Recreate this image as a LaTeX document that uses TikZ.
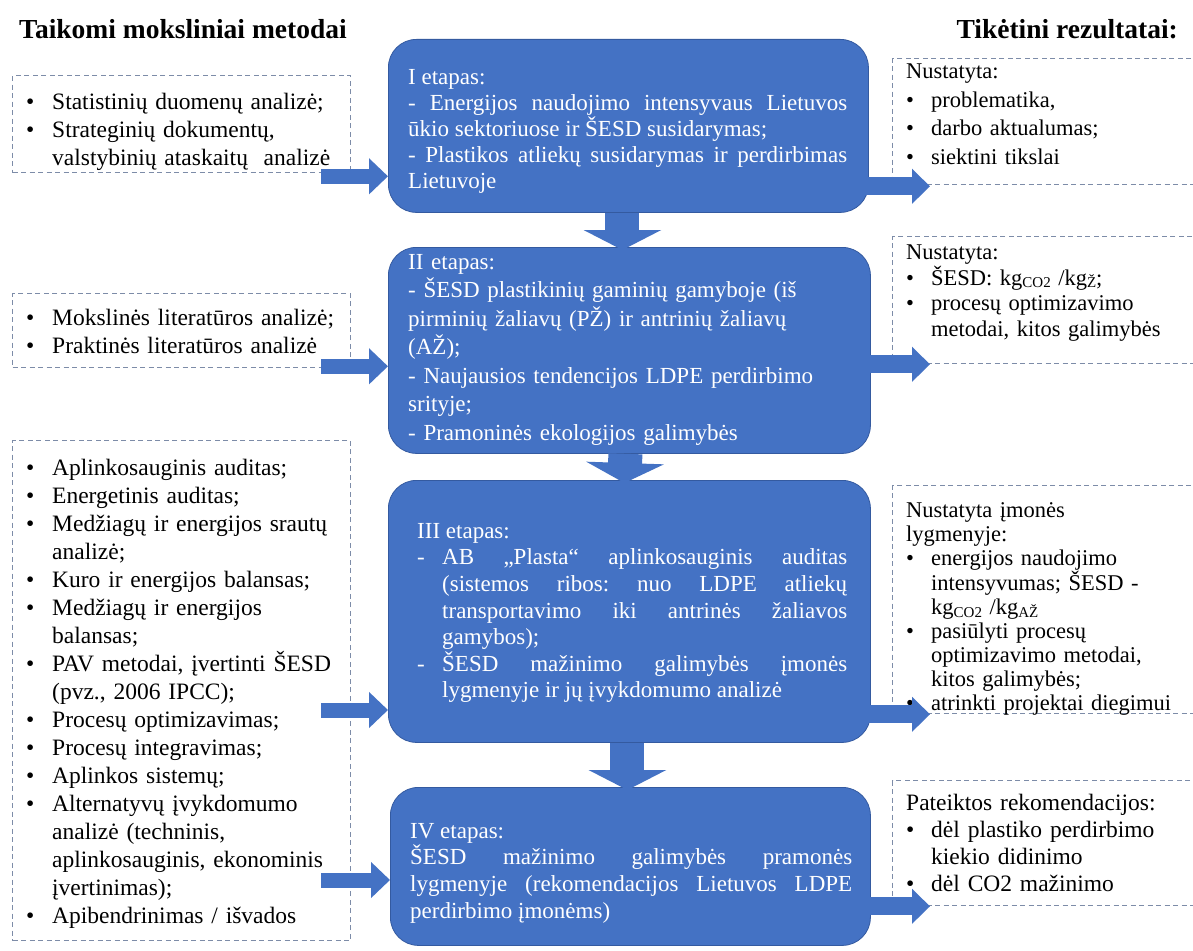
\documentclass[tikz,border=0pt]{standalone}
\usepackage{fontspec}
\setmainfont{Liberation Serif}[BoldFont={Liberation Serif Bold},ItalicFont={Liberation Serif Italic}]
\usetikzlibrary{arrows.meta,calc}
\definecolor{bblue}{RGB}{68,114,196}
\definecolor{bborder}{RGB}{52,90,160}
\definecolor{dgray}{RGB}{125,140,168}
\setlength{\parindent}{0pt}
\frenchspacing
\newcommand\bul[2][26pt]{\par\hangindent=#1\hangafter=1\makebox[#1][l]{\textbullet}#2\par}
\newcommand\dsh[1]{\par\hangindent=25pt\hangafter=1\makebox[25pt][l]{-}#1\par}
\newcommand\fst{\rule{0pt}{1em}}
\newcommand\sbs[1]{\raisebox{-2.5pt}{\fontsize{15}{15}\selectfont #1}}
\tikzset{
  bluebox/.style={draw=bborder, line width=0.8pt, fill=bblue, rounded corners=28pt, anchor=north west, inner sep=0pt},
  dbox/.style={draw=dgray, line width=1.3pt, dash pattern=on 5pt off 3.5pt, anchor=north west, inner sep=0pt},
  btext/.style={anchor=north west, inner sep=0pt, text=white, align=justify},
  ltext/.style={anchor=north west, inner sep=0pt, align=left, text width=320pt, font=\fontsize{23.5}{28}\selectfont},
  rtext/.style={anchor=north west, inner sep=0pt, align=left, text width=300pt, font=\fontsize{22.5}{25.5}\selectfont},
  hdr/.style={inner sep=0pt, font=\bfseries\fontsize{27.5}{30}\selectfont},
  harrow/.style={draw=bblue, line width=15pt, -{Triangle[width=35pt,length=19pt]}},
  rarrow/.style={draw=bblue, line width=18pt, -{Triangle[width=34pt,length=18pt]}},
  varrow/.style={draw=bblue, line width=34pt, -{Triangle[width=77pt,length=20pt]}},
}
\begin{document}
\begin{tikzpicture}[x=1pt,y=-1pt]
\useasboundingbox (0,0) rectangle (1193,950);
\clip (0,0) rectangle (1193,950);
\fill[white] (0,0) rectangle (1193,950);

% headers
\node[hdr, anchor=base west] (h1) at (19,38) {Taikomi moksliniai metodai};
\node[hdr, anchor=base east] (h2) at (1178,38) {Tikėtini rezultatai:};

% blue stage boxes
\node[bluebox, minimum width=480pt, minimum height=173pt] (b1) at (388,39) {};
\node[bluebox, minimum width=482pt, minimum height=206pt] (b2) at (388,247) {};
\node[bluebox, minimum width=482pt, minimum height=262pt] (b3) at (388,480) {};
\node[bluebox, minimum width=480pt, minimum height=158pt] (b4) at (390,787) {};

% left dashed boxes
\node[dbox, minimum width=338pt, minimum height=97pt] (l1) at (12,75) {};
\node[dbox, minimum width=338pt, minimum height=74pt] (l2) at (12,293) {};
\node[dbox, minimum width=338pt, minimum height=500pt] (l3) at (12,440) {};

% right dashed boxes
\node[dbox, minimum width=320pt, minimum height=126pt] (r1) at (892,58) {};
\node[dbox, minimum width=320pt, minimum height=127pt] (r2) at (892,236) {};
\node[dbox, minimum width=320pt, minimum height=228pt] (r3) at (892,485) {};
\node[dbox, minimum width=320pt, minimum height=125pt] (r4) at (892,780) {};

% blue texts
\node[btext, text width=439pt, font=\fontsize{23}{26}\selectfont] (tb1) at (408,61) {\fst I etapas:\par
- Energijos naudojimo intensyvaus Lietuvos\linebreak ūkio sektoriuose ir ŠESD susidarymas;\par
- Plastikos atliekų susidarymas ir perdirbimas\linebreak Lietuvoje};

\node[btext, align=left, text width=455pt, font=\fontsize{23}{28.5}\selectfont] (tb2) at (408,246) {\fst II etapas:\\
- ŠESD plastikinių gaminių gamyboje (iš\\
pirminių žaliavų (PŽ) ir antrinių žaliavų\\
(AŽ);\\
- Naujausios tendencijos LDPE perdirbimo\\
srityje;\\
- Pramoninės ekologijos galimybės};

\node[btext, text width=430pt, font=\fontsize{23}{26.6}\selectfont] (tb3) at (417,515) {\fst III etapas:
\dsh{AB „Plasta“ aplinkosauginis auditas\linebreak (sistemos ribos: nuo LDPE atliekų\linebreak transportavimo iki antrinės žaliavos\linebreak gamybos);}
\dsh{ŠESD mažinimo galimybės įmonės\linebreak lygmenyje ir jų įvykdomumo analizė}};

\node[btext, text width=442pt, font=\fontsize{23}{26.6}\selectfont] (tb4) at (410,815) {\fst IV etapas:\par
ŠESD mažinimo galimybės pramonės\linebreak lygmenyje (rekomendacijos Lietuvos LDPE\linebreak perdirbimo įmonėms)};

% left texts
\node[ltext] (tl1) at (26,81) {\bul{\fst Statistinių duomenų analizė;}
\bul{Strateginių dokumentų,\newline valstybinių ataskaitų\ \ analizė}};
\node[ltext] (tl2) at (26,297) {\bul{\fst Mokslinės literatūros analizė;}
\bul{Praktinės literatūros analizė}};
\node[ltext] (tl3) at (26,447) {\bul{\fst Aplinkosauginis auditas;}
\bul{Energetinis auditas;}
\bul{Medžiagų ir energijos srautų\newline analizė;}
\bul{Kuro ir energijos balansas;}
\bul{Medžiagų ir energijos\newline balansas;}
\bul{PAV metodai, įvertinti ŠESD\newline (pvz., 2006 IPCC);}
\bul{Procesų optimizavimas;}
\bul{Procesų integravimas;}
\bul{Aplinkos sistemų;}
\bul{Alternatyvų įvykdomumo\newline analizė (techninis,\newline aplinkosauginis, ekonominis\newline įvertinimas);}
\bul{Apibendrinimas / išvados}};

% right texts
\node[rtext, font=\fontsize{22.5}{28.5}\selectfont] (tr1) at (906,56) {\fst Nustatyta:
\bul[25pt]{problematika,}
\bul[25pt]{darbo aktualumas;}
\bul[25pt]{siektini tikslai}};
\node[rtext] (tr2) at (906,237) {\fst Nustatyta:
\bul[25pt]{ŠESD: kg\sbs{CO2} /kg\sbs{Ž};}
\bul[25pt]{procesų optimizavimo\newline metodai, kitos galimybės}};
\node[rtext, font=\fontsize{22.5}{24}\selectfont] (tr3) at (906,495) {\fst Nustatyta įmonės\newline lygmenyje:
\bul[25pt]{energijos naudojimo\newline intensyvumas; ŠESD -\newline kg\sbs{CO2} /kg\sbs{AŽ}}
\bul[25pt]{pasiūlyti procesų\newline optimizavimo metodai,\newline kitos galimybės;}
\bul[25pt]{atrinkti projektai diegimui}};
\node[rtext, font=\fontsize{23.5}{27}\selectfont] (tr4) at (906,787) {\fst Pateiktos rekomendacijos:
\bul[25pt]{dėl plastiko perdirbimo\newline kiekio didinimo}
\bul[25pt]{dėl CO2 mažinimo}};

% vertical arrows between stages
\draw[varrow] ($(b1.south)+(-6,0)$) -- ($(b2.north)+(-7,3)$);
\draw[varrow] ($(b2.south)+(-4,0)$) -- ($(b3.north)+(-5,3)$);
\draw[varrow] ($(b3.south)+(-2,0)$) -- ($(b4.north)+(-3,3)$);

% arrows from methods to stages
\coordinate (s1) at ($(l1.south east)+(-30,3)$);
\coordinate (s2) at ($(l2.south east)+(-30,-2)$);
\coordinate (s3) at ($(l3.north east)+(-30,270)$);
\coordinate (s4) at ($(l3.north east)+(-30,440)$);
\draw[harrow] (s1) -- (s1 -| b1.west);
\draw[harrow] (s2) -- (s2 -| b2.west);
\draw[harrow] (s3) -- (s3 -| b3.west);
\draw[harrow] (s4) -- (s4 -| b4.west);

% arrows from stages to results
\coordinate (e1) at ($(r1.south west)+(38,1)$);
\coordinate (e2) at ($(r2.south west)+(38,0)$);
\coordinate (e3) at ($(r3.south west)+(38,0)$);
\coordinate (e4) at ($(r4.south west)+(38,0)$);
\draw[rarrow] ($(b1.east |- e1)+(-15,0)$) -- (e1);
\draw[rarrow] ($(b2.east |- e2)+(-15,0)$) -- (e2);
\draw[rarrow] ($(b3.east |- e3)+(-15,0)$) -- (e3);
\draw[rarrow] ($(b4.east |- e4)+(-15,0)$) -- (e4);
\end{tikzpicture}
\end{document}
